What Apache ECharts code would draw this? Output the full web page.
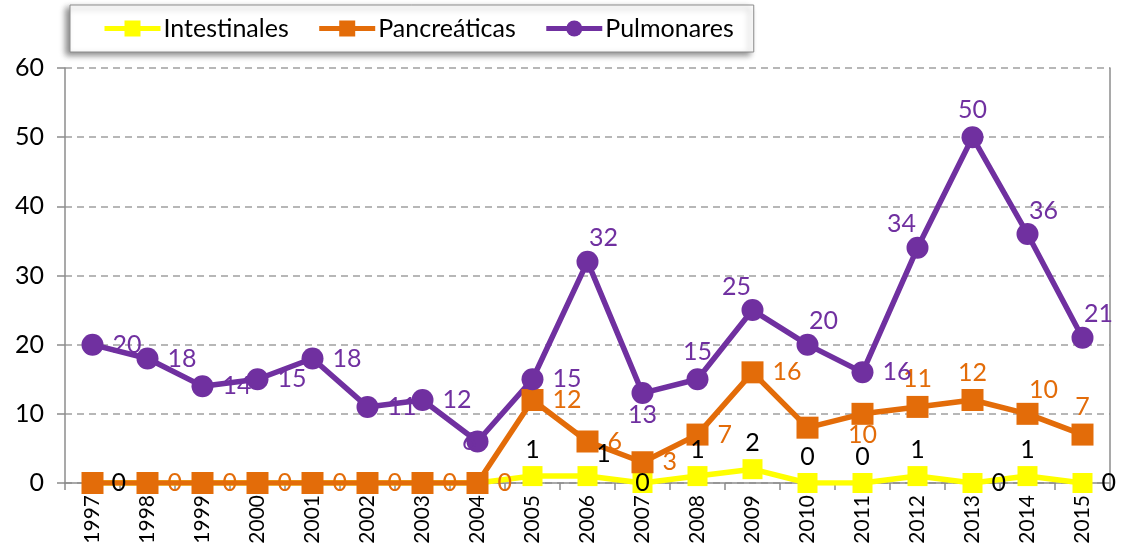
<!DOCTYPE html>
<html>
<head>
<meta charset="utf-8">
<script src="https://cdn.jsdelivr.net/npm/echarts@6/dist/echarts.min.js"></script>
<style>
  html, body { margin: 0; padding: 0; background: #fff; }
  #chart { width: 1121px; height: 552px; }
</style>
</head>
<body>
<div id="chart"></div>
<script>
// datos
const years = ['1997', '1998', '1999', '2000', '2001', '2002', '2003', '2004', '2005', '2006',
  '2007', '2008', '2009', '2010', '2011', '2012', '2013', '2014', '2015'];
const intestinales = [0, 0, 0, 0, 0, 0, 0, 0, 1, 1, 0, 1, 2, 0, 0, 1, 0, 1, 0];
const pancreaticas = [0, 0, 0, 0, 0, 0, 0, 0, 12, 6, 3, 7, 16, 8, 10, 11, 12, 10, 7];
const pulmonares = [20, 18, 14, 15, 18, 11, 12, 6, 15, 32, 13, 15, 25, 20, 16, 34, 50, 36, 21];

// posicion de etiquetas (null = oculta), como en el original
const intLabelPos = ['r', null, null, null, null, null, null, null, 't', 'tr', 'c', 't', 't', 't', 't', 't', 'r', 't', 'r'];
const panLabelPos = [null, 'r', 'r', 'r', 'r', 'r', 'r', 'r', 'r', 'r', 'r', 'r', 'r', null, 'b', 't', 't', 'tr', 't'];
const pulLabelPos = ['r', 'r', 'r', 'r', 'r', 'r', 'r', 'l', 'r', 'tr', 'b', 't', 'tl', 'tr', 'r', 'tl', 't', 'tr', 'tr'];

const placements = {
  r: { position: 'right', distance: 9 },
  l: { position: 'left', distance: -10 },
  t: { position: 'top', distance: 4 },
  b: { position: 'bottom', distance: -2 },
  c: { position: 'inside' },
  tr: { position: 'top', distance: 0, offset: [16, 0] },
  tl: { position: 'top', distance: 0, offset: [-16, 0] }
};

function buildData(values, pos) {
  return values.map(function (v, i) {
    const p = pos[i];
    if (p === null) {
      return { value: v, label: { show: false } };
    }
    return { value: v, label: Object.assign({ show: true }, placements[p]) };
  });
}

const FONT = 'Lato, "Open Sans", sans-serif';

const chart = echarts.init(document.getElementById('chart'));

const option = {
  animation: false,
  textStyle: { fontFamily: FONT },
  legend: {
    left: 70,
    top: 5,
    padding: [11, 20, 11, 32],
    itemGap: 28,
    itemWidth: 56,
    itemHeight: 20,
    lineStyle: { width: 5 },
    backgroundColor: '#fff',
    borderColor: '#8c8c8c',
    borderWidth: 1,
    shadowColor: 'rgba(0,0,0,0.45)',
    shadowBlur: 6,
    shadowOffsetX: -4,
    shadowOffsetY: 3,
    textStyle: { fontSize: 25, color: '#000', fontFamily: FONT, padding: [0, 0, 0, -2] },
    data: ['Intestinales', 'Pancreáticas', 'Pulmonares']
  },
  grid: {
    left: 65,
    right: 11,
    top: 68,
    bottom: 69
  },
  xAxis: {
    type: 'category',
    data: years,
    boundaryGap: true,
    axisLine: { lineStyle: { color: '#8c8c8c', width: 1.5 } },
    axisTick: { show: true, length: 7, lineStyle: { color: '#8c8c8c', width: 1.5 } },
    axisLabel: { rotate: 90, fontSize: 21, color: '#000', margin: 12, fontFamily: FONT }
  },
  yAxis: [
    {
      type: 'value',
      min: 0,
      max: 60,
      interval: 10,
      axisLine: { show: true, lineStyle: { color: '#8c8c8c', width: 1.5 } },
      axisTick: { show: true, length: 8, lineStyle: { color: '#8c8c8c', width: 1.5 } },
      axisLabel: { fontSize: 25, color: '#000', margin: 21, fontFamily: FONT },
      splitLine: { lineStyle: { color: '#a0a0a0', type: [7, 5], width: 1.5 } }
    },
    {
      // borde derecho del area
      type: 'value',
      position: 'right',
      min: 0,
      max: 60,
      interval: 10,
      axisLine: { show: true, lineStyle: { color: '#8c8c8c', width: 1.5 } },
      axisTick: { show: false },
      axisLabel: { show: false },
      splitLine: { show: false }
    }
  ],
  series: [
    {
      name: 'Intestinales',
      type: 'line',
      data: buildData(intestinales, intLabelPos),
      symbol: 'rect',
      symbolSize: 20,
      itemStyle: { color: '#ffff00' },
      lineStyle: { color: '#ffff00', width: 5.5 },
      label: { color: '#000', fontSize: 25, fontFamily: FONT }
    },
    {
      name: 'Pancreáticas',
      type: 'line',
      data: buildData(pancreaticas, panLabelPos),
      symbol: 'rect',
      symbolSize: 22,
      itemStyle: { color: '#e36c09' },
      lineStyle: { color: '#e36c09', width: 5.5 },
      label: { color: '#e36c09', fontSize: 25, fontFamily: FONT }
    },
    {
      name: 'Pulmonares',
      type: 'line',
      data: buildData(pulmonares, pulLabelPos),
      symbol: 'circle',
      symbolSize: 22,
      itemStyle: { color: '#7030a0' },
      lineStyle: { color: '#7030a0', width: 5.5 },
      label: { color: '#7030a0', fontSize: 25, fontFamily: FONT }
    }
  ]
};

chart.setOption(option);
window.onresize = chart.resize;
</script>
</body>
</html>
